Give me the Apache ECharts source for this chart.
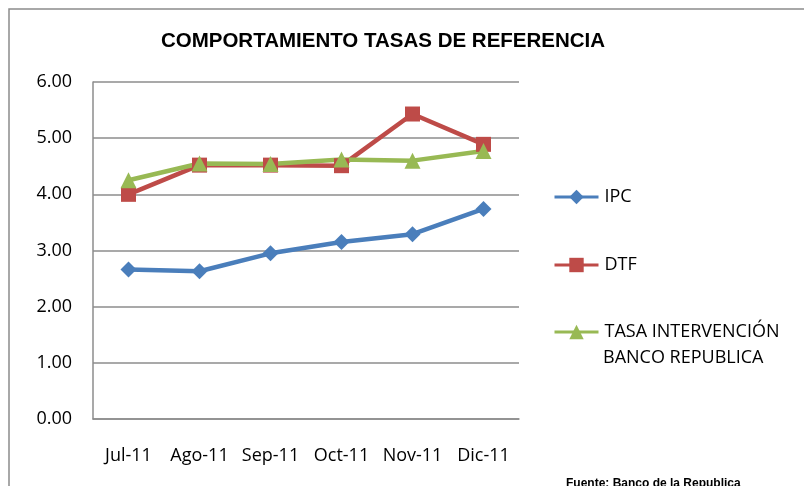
<!DOCTYPE html>
<html>
<head>
<meta charset="utf-8">
<script src="https://cdn.jsdelivr.net/npm/echarts@6/dist/echarts.min.js"></script>
<style>html,body{margin:0;padding:0;background:#fff;}#c{width:804px;height:486px;}</style>
</head>
<body>
<div id="c"></div>
<script>
var categories = ['Jul-11', 'Ago-11', 'Sep-11', 'Oct-11', 'Nov-11', 'Dic-11'];
var ipc = [2.66, 2.63, 2.95, 3.15, 3.29, 3.74];
var dtf = [4.00, 4.52, 4.52, 4.51, 5.43, 4.89];
var tasa = [4.25, 4.55, 4.54, 4.62, 4.60, 4.77];
var yTicks = [0, 1, 2, 3, 4, 5, 6];
var titleText = 'COMPORTAMIENTO TASAS DE REFERENCIA';
var seriesNames = ['IPC', 'DTF', 'TASA INTERVENCIÓN BANCO REPUBLICA'];
var tasaLines = ['TASA INTERVENCIÓN', 'BANCO REPUBLICA'];
var sourceText = 'Fuente: Banco de la Republica';

var font = "'Open Sans', 'Liberation Sans', sans-serif";
var colors = ['#4A7EBB', '#BE4B48', '#98B954'];
var chart = echarts.init(document.getElementById('c'));

function legendFor(i, center, fmt) {
  return {
    orient: 'vertical', left: 553, top: center - 9,
    itemWidth: 44, itemHeight: 18, padding: 0,
    data: [seriesNames[i]],
    formatter: fmt || function (n) { return n; },
    lineStyle: { width: 3 },
    textStyle: { fontFamily: font, fontSize: 18, color: '#000', padding: [0, 0, 0, 1] },
    selectedMode: false
  };
}

chart.setOption({
  animation: false,
  title: {
    text: titleText, left: 378, top: 26, textAlign: 'center',
    textStyle: { fontFamily: "'Liberation Sans', Arial, sans-serif", fontWeight: 'bold', fontSize: 20.5, color: '#000' }
  },
  legend: [
    legendFor(0, 197),
    legendFor(1, 265),
    legendFor(2, 332, function () { return tasaLines[0]; })
  ],
  graphic: [
    { type: 'rect', shape: { x: 9, y: 9, width: 820, height: 500 }, style: { fill: 'none', stroke: '#8c8c8c', lineWidth: 1.5 }, silent: true },
    { type: 'text', left: 603, top: 349, style: { text: tasaLines[1], font: '18px ' + font, fill: '#000' } },
    { type: 'text', left: 566, top: 478, style: { text: sourceText, font: 'bold 12px ' + "'Liberation Sans', Arial, sans-serif", fill: '#000' } }
  ],
  grid: { left: 93, right: 285, top: 82, bottom: 67 },
  xAxis: {
    type: 'category', data: categories, boundaryGap: true,
    axisLine: { lineStyle: { color: '#8c8c8c', width: 1.5 } },
    axisTick: { show: false },
    axisLabel: { fontFamily: font, fontSize: 18, color: '#000', margin: 28, interval: 0 }
  },
  yAxis: {
    type: 'value', min: yTicks[0], max: yTicks[yTicks.length - 1], interval: 1,
    axisLine: { show: true, lineStyle: { color: '#8c8c8c', width: 1.5 } },
    axisTick: { show: false },
    splitLine: { lineStyle: { color: '#8c8c8c', width: 1.5 } },
    axisLabel: { fontFamily: font, fontSize: 18, color: '#000', margin: 21, formatter: function (v) { return v.toFixed(2); } }
  },
  series: [
    { name: seriesNames[0], type: 'line', data: ipc, symbol: 'diamond', symbolSize: 16,
      lineStyle: { color: colors[0], width: 4.5 }, itemStyle: { color: colors[0] } },
    { name: seriesNames[1], type: 'line', data: dtf, symbol: 'rect', symbolSize: 15,
      lineStyle: { color: colors[1], width: 4.5 }, itemStyle: { color: colors[1] } },
    { name: seriesNames[2], type: 'line', data: tasa, symbol: 'triangle', symbolSize: 16,
      lineStyle: { color: colors[2], width: 4.5 }, itemStyle: { color: colors[2] } }
  ]
});
</script>
</body>
</html>
